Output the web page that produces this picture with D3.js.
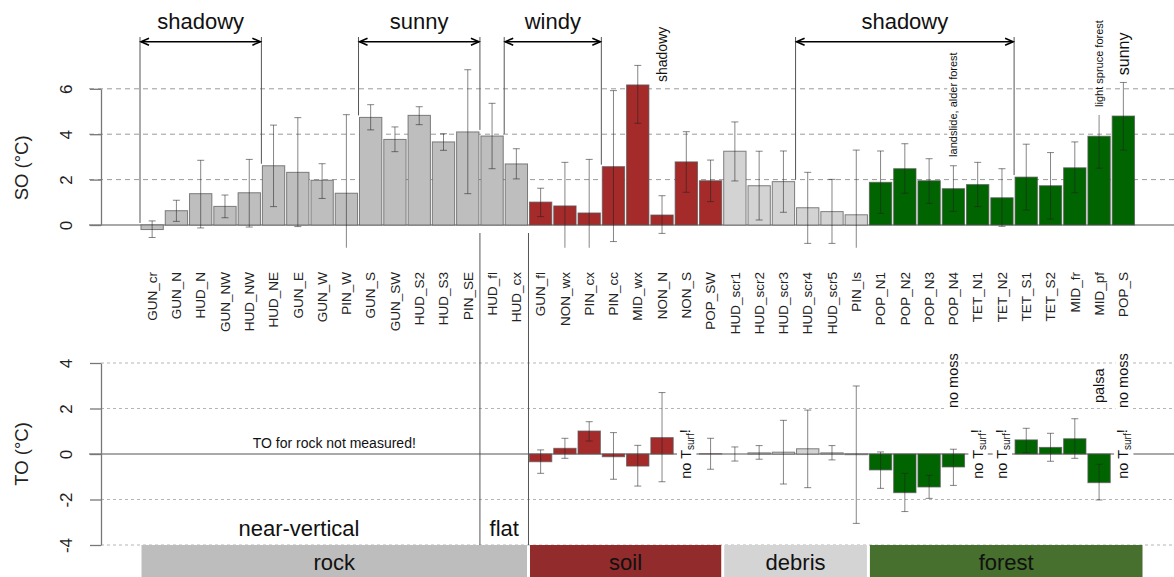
<!DOCTYPE html>
<html>
<head>
<meta charset="utf-8">
<script src="https://cdn.jsdelivr.net/npm/d3@7"></script>
<style>
  body { margin: 0; background: #fff; }
  svg { display: block; font-family: "Liberation Sans", Arial, sans-serif; }
</style>
</head>
<body>
<div id="chart"></div>
<script>
// sites, left to right
const sites = ["GUN_cr", "GUN_N", "HUD_N", "GUN_NW", "HUD_NW", "HUD_NE", "GUN_E", "GUN_W", "PIN_W",
  "GUN_S", "GUN_SW", "HUD_S2", "HUD_S3", "PIN_SE", "HUD_fl", "HUD_cx",
  "GUN_fl", "NON_wx", "PIN_cx", "PIN_cc", "MID_wx", "NON_N", "NON_S", "POP_SW",
  "HUD_scr1", "HUD_scr2", "HUD_scr3", "HUD_scr4", "HUD_scr5", "PIN_ls",
  "POP_N1", "POP_N2", "POP_N3", "POP_N4", "TET_N1", "TET_N2", "TET_S1", "TET_S2", "MID_fr", "MID_pf", "POP_S"];

const groupNames = ["rock", "soil", "debris", "forest"];
const groupSizes = [16, 8, 6, 11];

// SO (°C): mean, lower and upper whisker
const soMean = [-0.2, 0.63, 1.38, 0.82, 1.42, 2.61, 2.32, 1.97, 1.4, 4.74, 3.77, 4.83, 3.66, 4.1, 3.92, 2.69,
  1.01, 0.84, 0.53, 2.57, 6.17, 0.44, 2.78, 1.95,
  3.25, 1.73, 1.91, 0.76, 0.59, 0.45,
  1.88, 2.48, 1.95, 1.6, 1.78, 1.2, 2.11, 1.73, 2.52, 3.91, 4.8];
const soLo = [-0.55, 0.16, -0.13, 0.32, -0.09, 0.81, -0.07, 1.17, -2.06, 4.19, 3.23, 4.42, 3.29, 1.38, 2.48, 2.03,
  0.37, -1.08, -1.83, -0.73, 4.48, -0.37, 1.44, 1.03,
  1.94, 0.22, 0.56, -0.81, -0.81, -2.4,
  0.51, 1.4, 0.95, 0.6, 0.81, -0.06, 0.66, 0.26, 1.42, 2.5, 3.3];
const soHi = [0.18, 1.09, 2.85, 1.32, 2.89, 4.4, 4.73, 2.7, 4.86, 5.3, 4.32, 5.21, 4.02, 6.84, 5.36, 3.36,
  1.62, 2.76, 2.89, 5.92, 7.03, 1.29, 4.11, 2.86,
  4.54, 3.25, 3.26, 2.32, 2.01, 3.3,
  3.26, 3.58, 2.92, 2.61, 2.76, 2.48, 3.56, 3.19, 3.66, 5.31, 6.28];

// TO (°C): null = not measured
const R = null;
const toMean = [R, R, R, R, R, R, R, R, R, R, R, R, R, R, R, R,
  -0.34, 0.25, 1.01, -0.12, -0.53, 0.72, R, 0.01,
  0.0, 0.05, 0.08, 0.23, 0.05, -0.03,
  -0.7, -1.7, -1.45, -0.57, R, R, 0.62, 0.29, 0.67, -1.26, R];
const toLo = [R, R, R, R, R, R, R, R, R, R, R, R, R, R, R, R,
  -0.85, -0.19, 0.57, -1.11, -1.41, -1.22, R, -0.67,
  -0.31, -0.23, -1.32, -1.48, -0.26, -3.05,
  -1.51, -2.53, -1.95, -1.38, R, R, 0.06, -0.32, -0.19, -2.02, R];
const toHi = [R, R, R, R, R, R, R, R, R, R, R, R, R, R, R, R,
  0.18, 0.69, 1.42, 0.94, 0.38, 2.7, R, 0.69,
  0.31, 0.37, 1.48, 1.93, 0.37, 2.99,
  0.09, -0.85, -0.94, 0.21, R, R, 1.13, 0.91, 1.55, -0.45, R];

const soTicks = [0, 2, 4, 6];
const toTicks = [-4, -2, 0, 2, 4];

// exposure brackets over the SO panel: from left edge of first site to left edge of second
const bracketLabels = ["shadowy", "sunny", "windy", "shadowy"];
const bracketFrom = ["GUN_cr", "GUN_S", "HUD_cx", "HUD_scr4"];
const bracketTo = ["HUD_NE", "HUD_fl", "PIN_cc", "TET_S1"];

const soNoteSites = ["NON_N", "POP_N4", "MID_pf", "POP_S"];
const soNoteTexts = ["shadowy", "landslide, alder forest", "light spruce forest", "sunny"];
const toNoteSites = ["POP_N4", "MID_pf", "POP_S"];
const toNoteTexts = ["no moss", "palsa", "no moss"];
const noSurfSites = ["NON_S", "TET_N1", "TET_N2", "POP_S"];

const barColor = {rock: "#bebebe", soil: "#a52a2a", debris: "#d3d3d3", forest: "#006400"};
const legendColor = {rock: "#bdbdbd", soil: "#922b2b", debris: "#d4d4d4", forest: "#476f2e"};

const width = 1174, height = 577;
const axisX = 101;

const group = [];
groupNames.forEach((g, i) => { for (let k = 0; k < groupSizes[i]; k++) group.push(g); });

const svg = d3.select("#chart").append("svg")
  .attr("width", width)
  .attr("height", height);

const x = d3.scaleBand().domain(sites).range([140, 1135.5]).paddingInner(0.08).paddingOuter(0.04);
const edge = s => x(s) - x.step() * x.paddingInner() / 2;
const mid = s => x(s) + x.bandwidth() / 2;

const ySO = d3.scaleLinear().domain([0, 6]).range([225, 88.8]);
const yTO = d3.scaleLinear().domain([-4, 4]).range([545, 363]);

svg.append("defs").append("clipPath").attr("id", "clipSO")
  .append("rect").attr("x", 0).attr("width", width)
  .attr("y", ySO(7.3)).attr("height", ySO(-1) - ySO(7.3));

// grid lines and zero lines
svg.append("g").selectAll("line").data(soTicks.filter(d => d !== 0)).join("line")
  .attr("x1", 89).attr("x2", width)
  .attr("y1", d => ySO(d)).attr("y2", d => ySO(d))
  .attr("stroke", "#9a9a9a").attr("stroke-dasharray", "5,4");
svg.append("g").selectAll("line").data(toTicks.filter(d => d !== 0)).join("line")
  .attr("x1", axisX).attr("x2", width)
  .attr("y1", d => yTO(d)).attr("y2", d => yTO(d))
  .attr("stroke", "#b5b5b5").attr("stroke-dasharray", "3,3");
[ySO, yTO].forEach(y => {
  svg.append("line").attr("x1", 89).attr("x2", width)
    .attr("y1", y(0)).attr("y2", y(0))
    .attr("stroke", "#8c8c8c").attr("stroke-width", 1.3);
});

function axis(y, ticks) {
  const g = svg.append("g")
    .attr("transform", `translate(${axisX},0)`)
    .call(d3.axisLeft(y).tickValues(ticks).tickFormat(d => String(d))
      .tickSize(11).tickSizeOuter(0));
  g.select(".domain").attr("stroke", "#777").attr("stroke-width", 1.3);
  g.selectAll(".tick line").attr("stroke", "#777").attr("stroke-width", 1.3);
  g.selectAll(".tick text")
    .attr("x", null).attr("dy", "0.35em")
    .attr("transform", "translate(-35,0) rotate(-90)")
    .attr("text-anchor", "middle")
    .attr("font-size", 17).attr("fill", "#222");
  return g;
}
axis(ySO, soTicks);
axis(yTO, toTicks);

svg.append("text")
  .attr("transform", `translate(22,${ySO(3) + 11}) rotate(-90)`)
  .attr("dy", "0.35em").attr("text-anchor", "middle")
  .attr("font-size", 18.5).attr("fill", "#222")
  .text("SO (°C)");
svg.append("text")
  .attr("transform", `translate(22,${yTO(0)}) rotate(-90)`)
  .attr("dy", "0.35em").attr("text-anchor", "middle")
  .attr("font-size", 18.5).attr("fill", "#222")
  .text("TO (°C)");

// bars
function bars(y, mean, lo, hi, clip) {
  const data = sites.map((s, i) => ({s, g: group[i], v: mean[i], lo: lo[i], hi: hi[i]}))
    .filter(d => d.v !== null);
  svg.append("g").selectAll("rect").data(data).join("rect")
    .attr("x", d => x(d.s))
    .attr("width", x.bandwidth())
    .attr("y", d => Math.min(y(d.v), y(0)))
    .attr("height", d => Math.abs(y(d.v) - y(0)))
    .attr("fill", d => barColor[d.g])
    .attr("stroke", "#5a5a5a").attr("stroke-opacity", 0.75);
  const eg = svg.append("g")
    .attr("stroke", "#222").attr("stroke-opacity", 0.55);
  if (clip) eg.attr("clip-path", "url(#clipSO)");
  const e = eg.selectAll("g").data(data).join("g");
  e.append("line")
    .attr("x1", d => mid(d.s)).attr("x2", d => mid(d.s))
    .attr("y1", d => y(d.lo)).attr("y2", d => y(d.hi));
  ["lo", "hi"].forEach(k => {
    e.append("line")
      .attr("x1", d => mid(d.s) - 3.5).attr("x2", d => mid(d.s) + 3.5)
      .attr("y1", d => y(d[k])).attr("y2", d => y(d[k]));
  });
}
bars(ySO, soMean, soLo, soHi, true);
bars(yTO, toMean, toLo, toHi, false);

// x labels
svg.append("g").selectAll("text").data(sites).join("text")
  .attr("transform", d => `translate(${mid(d)},272) rotate(-90)`)
  .attr("dy", "0.35em").attr("text-anchor", "end")
  .attr("font-size", 13.5).attr("fill", "#222")
  .text(d => d);

// brackets
const bracketTop = 37, arrowY = 41.7;
function lineBottom(s) {
  const i = sites.indexOf(s);
  const v = Math.max(0, soMean[i], i > 0 ? soMean[i - 1] : 0);
  return ySO(v) - 2;
}
bracketLabels.forEach((lab, i) => {
  const x0 = edge(bracketFrom[i]), x1 = edge(bracketTo[i]);
  const g = svg.append("g");
  [[x0, bracketFrom[i]], [x1, bracketTo[i]]].forEach(([xx, s]) => {
    g.append("line").attr("x1", xx).attr("x2", xx)
      .attr("y1", bracketTop).attr("y2", lineBottom(s))
      .attr("stroke", "#555");
  });
  g.append("line").attr("x1", x0 + 1).attr("x2", x1 - 1)
    .attr("y1", arrowY).attr("y2", arrowY)
    .attr("stroke", "#000").attr("stroke-width", 1.6);
  g.append("path")
    .attr("d", `M${x0 + 9},${arrowY - 3.5}L${x0 + 1},${arrowY}L${x0 + 9},${arrowY + 3.5}` +
      `M${x1 - 9},${arrowY - 3.5}L${x1 - 1},${arrowY}L${x1 - 9},${arrowY + 3.5}`)
    .attr("fill", "none").attr("stroke", "#000").attr("stroke-width", 1.6);
  g.append("text")
    .attr("x", (x0 + x1) / 2).attr("y", 29)
    .attr("text-anchor", "middle").attr("font-size", 22).attr("fill", "#111")
    .text(lab);
});

// vertical notes with white background
function note(xc, yy, anchor, size, padStart, build) {
  const g = svg.append("g").attr("transform", `translate(${xc},${yy}) rotate(-90)`);
  const bg = g.append("rect").attr("fill", "#fff");
  const t = g.append("text").attr("dy", "0.35em").attr("text-anchor", anchor)
    .attr("font-size", size).attr("fill", "#111");
  build(t);
  const b = t.node().getBBox();
  bg.attr("x", b.x - padStart).attr("y", b.y)
    .attr("width", b.width + padStart + 1.5).attr("height", b.height);
}
const soNoteAt = [6.3, 3.0, 5.2, 6.6];
const soNoteSize = [14, 11, 11, 16];
const soNotePad = [1.5, 1.5, 8, 1.5];
soNoteSites.forEach((s, i) => {
  note(mid(s), ySO(soNoteAt[i]), "start", soNoteSize[i], soNotePad[i], t => t.text(soNoteTexts[i]));
});
const toNoteAt = [2.02, 2.24, 2.02];
toNoteSites.forEach((s, i) => {
  note(mid(s), yTO(toNoteAt[i]), "start", 14.5, 1.5, t => t.text(toNoteTexts[i]));
});
noSurfSites.forEach(s => {
  note(mid(s), yTO(0), "middle", 14.5, 1.5, t => {
    t.append("tspan").text("no T");
    t.append("tspan").attr("font-size", 10).attr("dy", "0.3em").text("surf");
    t.append("tspan").attr("dy", "-0.3em").text("!");
  });
});

svg.append("text")
  .attr("x", (edge("GUN_cr") + edge("GUN_fl")) / 2).attr("y", yTO(0) - 6)
  .attr("text-anchor", "middle").attr("font-size", 14).attr("fill", "#111")
  .text("TO for rock not measured!");

// rock subtypes separators
["HUD_fl", "GUN_fl"].forEach(s => {
  svg.append("line").attr("x1", edge(s)).attr("x2", edge(s))
    .attr("y1", 233).attr("y2", yTO(-4))
    .attr("stroke", "#555");
});
svg.append("text")
  .attr("x", (edge("GUN_cr") + edge("HUD_fl")) / 2 - 11).attr("y", 536)
  .attr("text-anchor", "middle").attr("font-size", 22).attr("fill", "#111")
  .text("near-vertical");
svg.append("text")
  .attr("x", (edge("HUD_fl") + edge("GUN_fl")) / 2).attr("y", 536)
  .attr("text-anchor", "middle").attr("font-size", 22).attr("fill", "#111")
  .text("flat");

// group legend along the bottom
let start = 0;
groupNames.forEach((g, i) => {
  const first = sites[start];
  const last = start + groupSizes[i];
  const x0 = edge(first) + 1.5;
  const x1 = last < sites.length ? edge(sites[last]) - 1.5 : x.range()[1] + 7;
  svg.append("rect")
    .attr("x", x0).attr("width", x1 - x0)
    .attr("y", yTO(-4)).attr("height", 40)
    .attr("fill", legendColor[g]);
  svg.append("text")
    .attr("x", (x0 + x1) / 2).attr("y", 570)
    .attr("text-anchor", "middle").attr("font-size", 22).attr("fill", "#111")
    .text(g);
  start = last;
});
</script>
</body>
</html>
